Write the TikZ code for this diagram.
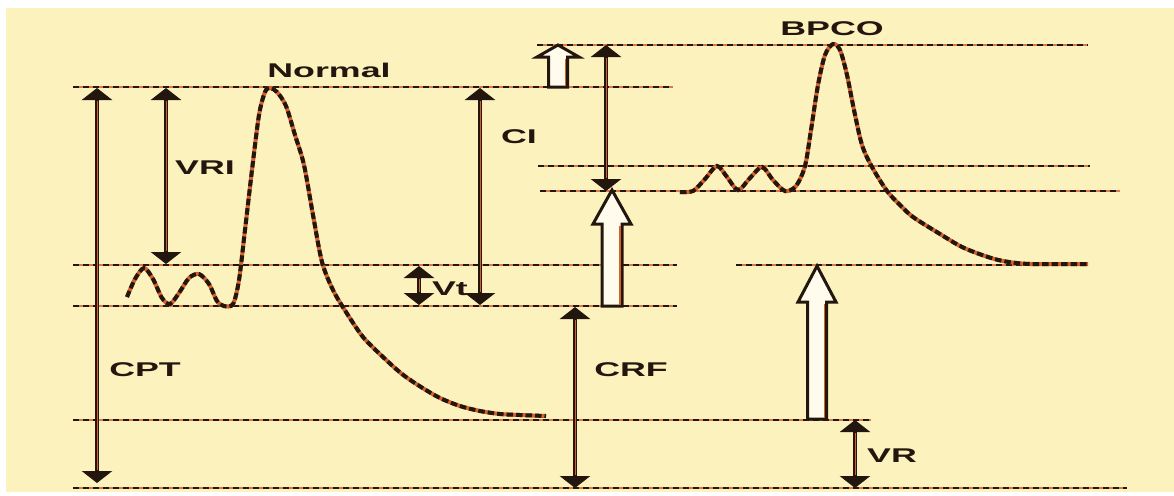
\documentclass[tikz,border=0pt]{standalone}
\usepackage{fontspec}
\setmainfont{Liberation Sans}
\usetikzlibrary{arrows.meta,calc}
\definecolor{bg}{RGB}{251,242,190}
\definecolor{ink}{RGB}{34,22,14}
\definecolor{rust}{RGB}{214,96,42}
\definecolor{cream}{RGB}{255,252,238}
\tikzset{
  guide/.style={draw=ink, line width=0.5mm, dash pattern=on 1.2mm off 0.8mm,
    preaction={draw=rust!85, line width=0.45mm, dash pattern=on 0.8mm off 1.2mm, dash phase=-1.2mm}},
  trace/.style={draw=ink, line width=0.8mm, dash pattern=on 1.3mm off 0.6mm,
    preaction={draw=rust, line width=0.8mm, solid}},
  dim/.style={draw=ink, line width=0.75mm,
    {Triangle[width=6mm,length=2.4mm]}-{Triangle[width=6mm,length=2.4mm]}},
  glow/.style={draw=rust, line width=0.18mm, shorten <=2.6mm, shorten >=2.6mm},
  hollow/.style={draw=ink, line width=0.6mm, fill=cream, line join=miter},
  lab/.style={inner sep=0pt, text=ink, font=\fontsize{11.3}{13}\selectfont\bfseries},
}
% tip, bottom, shaft half width, head half width, head length
\newcommand\hollowarrow[5]{%
  \draw[hollow] ($(#2)+(-#3,0)$) -- ($(#1)+(-#3,-#5)$) -- ($(#1)+(-#4,-#5)$) -- (#1)
    -- ($(#1)+(#4,-#5)$) -- ($(#1)+(#3,-#5)$) -- ($(#2)+(#3,0)$) -- cycle;
  \draw[rust, line width=0.3mm] ($(#2)+(#3,0)+(-0.4mm,0.3mm)$) -- ($(#1)+(#3,-#5)+(-0.4mm,-0.4mm)$);
}
\begin{document}
\begin{tikzpicture}[x=0.2mm, y=-0.2mm]
\useasboundingbox (0,0) rectangle (1174,495);
\fill[white] (0,0) rectangle (1174,495);
\fill[bg] (6,8) rectangle (1174,492);

% level lines
\coordinate (a1) at (537,45);  \coordinate (a2) at (1088,45);
\coordinate (b1) at (73,87);   \coordinate (b2) at (673,87);
\coordinate (c1) at (538,166); \coordinate (c2) at (1090,166);
\coordinate (d1) at (540,191); \coordinate (d2) at (1120,191);
\coordinate (e1) at (73,265);  \coordinate (e2) at (677,265);
\coordinate (f1) at (736,265); \coordinate (f2) at (1088,265);
\coordinate (g1) at (73,306);  \coordinate (g2) at (677,306);
\coordinate (h1) at (73,420);  \coordinate (h2) at (871,420);
\coordinate (k1) at (73,488);  \coordinate (k2) at (1127,488);
\foreach \p in {a,b,c,d,e,f,g,h,k} \draw[guide] (\p1) -- (\p2);

% Normal trace
\draw[trace] plot[smooth, tension=0.5] coordinates {
 (127,297) (135,279) (144,268) (153,279) (162,298) (170,304) (179,293) (189,278)
 (199,274) (209,284) (217,301) (224,306) (233,304) (239,280) (245,230) (252,170)
 (259,115) (265,92) (270,88) (277,92) (286,106) (295,135) (304,165) (313,215)
 (322,262) (333,290) (346,312) (363,337) (383,357) (402,374) (421,387) (440,398)
 (460,406) (480,411) (500,414) (520,415) (546,416)};

% BPCO trace
\draw[trace] plot[smooth, tension=0.5] coordinates {
 (680,192) (693,191) (705,179) (717,166) (727,177) (738,190) (750,178) (762,167)
 (773,180) (785,191) (796,186) (805,166) (811,130) (818,85) (825,55) (833,44)
 (840,50) (847,75) (854,110) (862,145) (872,167) (887,191) (900,205) (913,217)
 (940,234) (962,247) (985,256) (1003,261) (1030,264) (1088,264)};

% dimension arrows
\coordinate (cptT) at (97,88);   \coordinate (cptB) at (97,483);
\coordinate (vriT) at (166,88);  \coordinate (vriB) at (166,264);
\coordinate (vtT)  at (419,266); \coordinate (vtB)  at (419,305);
\coordinate (ciT)  at (480,88);  \coordinate (ciB)  at (480,305);
\coordinate (crfT) at (575,307); \coordinate (crfB) at (575,488);
\coordinate (bcT)  at (606,45);  \coordinate (bcB)  at (606,191);
\coordinate (vrT)  at (855,420); \coordinate (vrB)  at (855,488);
\foreach \p in {cpt,vri,vt,ci,crf,bc,vr} {
  \draw[dim] (\p T) -- (\p B);
  \draw[glow] (\p T) -- (\p B);
}

% hollow arrows
\coordinate (hsT) at (558,45);  \coordinate (hsB) at (558,87);
\coordinate (hmT) at (612,190); \coordinate (hmB) at (612,306);
\coordinate (hlT) at (817,266); \coordinate (hlB) at (817,419);
\hollowarrow{hsT}{hsB}{1.9mm}{4.2mm}{2.4mm}
\hollowarrow{hmT}{hmB}{2mm}{3.8mm}{6.8mm}
\hollowarrow{hlT}{hlB}{1.9mm}{3.8mm}{7.2mm}

% labels
\node[lab] (tnormal) at (329,70)  {\scalebox{1.8}[1]{Normal}};
\node[lab] (tbpco)   at (832,29)  {\scalebox{1.8}[1]{BPCO}};
\node[lab] (tvri)    at (205,168) {\scalebox{1.8}[1]{VRI}};
\node[lab] (tci)     at (519,137) {\scalebox{1.8}[1]{CI}};
\node[lab] (tvt)     at (450,289) {\scalebox{1.8}[1]{Vt}};
\node[lab] (tcpt)    at (145,370) {\scalebox{1.8}[1]{CPT}};
\node[lab] (tcrf)    at (631,370) {\scalebox{1.8}[1]{CRF}};
\node[lab] (tvr)     at (892,456) {\scalebox{1.8}[1]{VR}};
\end{tikzpicture}
\end{document}
